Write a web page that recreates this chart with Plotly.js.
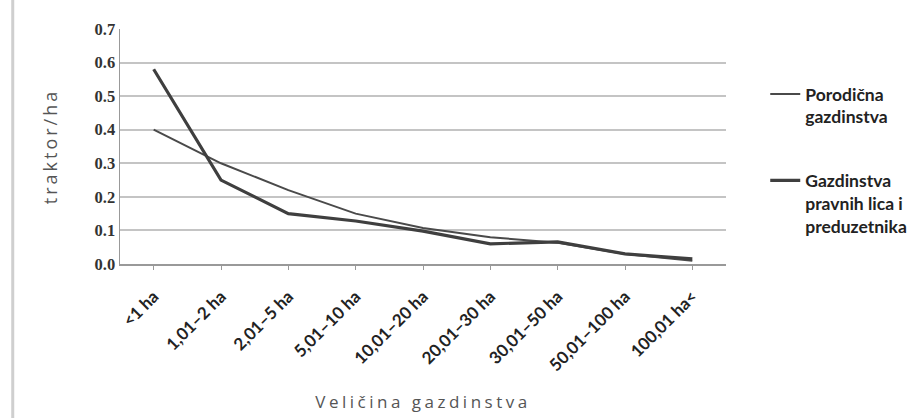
<!DOCTYPE html>
<html>
<head>
<meta charset="utf-8">
<script src="https://cdn.plot.ly/plotly-3.0.1.min.js"></script>
<style>
  html, body { margin: 0; padding: 0; background: #fff; }
  #chart { width: 923px; height: 418px; }
  .xtitle { letter-spacing: 3.5px; }
  .ytitle { letter-spacing: 3px; }
</style>
</head>
<body>
<div id="chart"></div>
<script>
const categories = ["<1 ha", "1,01–2 ha", "2,01–5 ha", "5,01–10 ha", "10,01–20 ha", "20,01–30 ha", "30,01–50 ha", "50,01–100 ha", "100,01 ha<"];
const porodicna = [0.40, 0.30, 0.22, 0.15, 0.107, 0.08, 0.063, 0.03, 0.01];
const pravnihLica = [0.58, 0.25, 0.15, 0.128, 0.098, 0.06, 0.066, 0.03, 0.015];
const seriesNames = ["Porodična<br>gazdinstva", "Gazdinstva<br>pravnih lica i<br>preduzetnika"];
const yTicks = [0, 0.1, 0.2, 0.3, 0.4, 0.5, 0.6, 0.7];
const yTickLabels = ["0.0", "0.1", "0.2", "0.3", "0.4", "0.5", "0.6", "0.7"];

const traces = [
  { x: categories, y: porodicna, name: seriesNames[0], legendgroup: "a", type: "scatter", mode: "lines",
    line: { color: "#4a4a4a", width: 2 } },
  { x: categories, y: pravnihLica, name: seriesNames[1], legendgroup: "b", type: "scatter", mode: "lines",
    line: { color: "#3f3f3f", width: 3.2 } }
];

const layout = {
  width: 923, height: 418,
  margin: { l: 120, r: 196, t: 29, b: 154 },
  paper_bgcolor: "#fff", plot_bgcolor: "#fff",
  showlegend: true,
  legend: {
    x: 1.063, y: 0.8, xanchor: "left", yanchor: "top",
    valign: "top", traceorder: "grouped", tracegroupgap: 38, itemwidth: 30,
    font: { family: "Lato, 'Liberation Sans', sans-serif", size: 17.5, color: "#222", weight: "bold" }
  },
  xaxis: {
    type: "category", range: [-0.5, 8.5],
    tickangle: -45,
    tickfont: { family: "Lato, 'Liberation Sans', sans-serif", size: 17, color: "#222", weight: "bold" },
    ticks: "outside", ticklen: 4, tickcolor: "#999", ticklabelstandoff: 10,
    showline: true, linecolor: "#999", linewidth: 2,
    showgrid: false, zeroline: false,
    title: { text: "Veličina gazdinstva", standoff: 22,
      font: { family: "'Open Sans', 'DejaVu Sans', sans-serif", size: 17, color: "#555" } }
  },
  yaxis: {
    range: [0, 0.7], tickvals: yTicks, ticktext: yTickLabels,
    tickfont: { family: "'Liberation Serif', serif", size: 16.5, color: "#333", weight: "bold" },
    showline: true, linecolor: "#999", linewidth: 1.5,
    showgrid: true, gridcolor: "#c4c4c4", gridwidth: 2,
    zeroline: false, ticks: "", ticklabelstandoff: 0,
    title: { text: "traktor/ha", standoff: 32,
      font: { family: "'Open Sans', 'DejaVu Sans', sans-serif", size: 18, color: "#555" } }
  },
  shapes: [
    { type: "line", xref: "paper", yref: "paper", x0: -0.177, x1: -0.177, y0: -0.7, y1: 1.15,
      line: { color: "#cfcfcf", width: 3 } }
  ]
};

Plotly.newPlot("chart", traces, layout, { staticPlot: true, displayModeBar: false });
</script>
</body>
</html>
